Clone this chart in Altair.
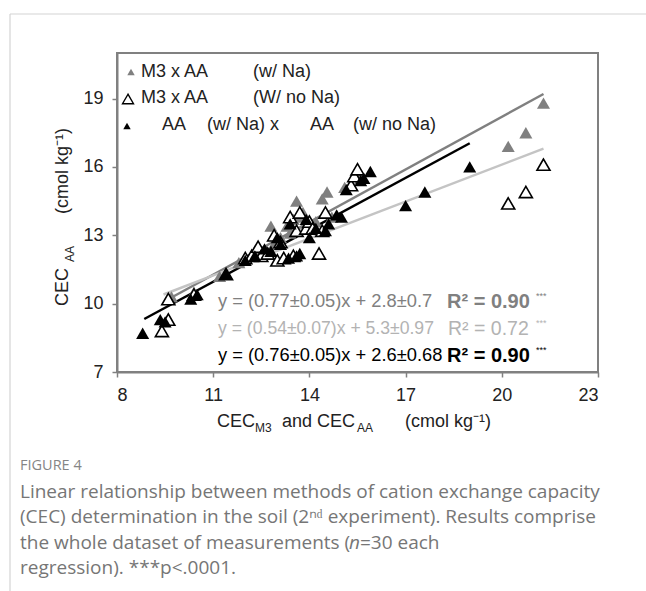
import altair as alt
import pandas as pd

# ---------------- data ----------------
# M3 x AA (w/ Na)  -- grey filled triangles
m3_na_x = [9.6, 9.7, 10.4, 11.2, 11.8, 12.0, 12.3, 12.6, 12.8, 12.9, 13.1, 13.3, 13.4, 13.5, 13.6,
           13.7, 13.8, 13.9, 14.0, 14.2, 14.4, 14.55, 14.7, 15.1, 15.3, 15.5, 15.6, 20.2, 20.75, 21.3]
m3_na_y = [10.2, 10.3, 10.5, 11.2, 11.8, 12.0, 12.3, 12.2, 13.4, 12.6, 12.9, 13.4, 13.1, 13.7, 14.5,
           13.8, 14.0, 13.5, 13.3, 13.6, 14.6, 14.9, 13.8, 15.1, 15.2, 15.7, 15.5, 16.9, 17.5, 18.8]
# M3 x AA (W/ no Na) -- open triangles
m3_nona_x = [9.4, 9.6, 9.6, 10.4, 11.4, 12.0, 12.2, 12.4, 12.5, 12.7, 12.9, 13.0, 13.1, 13.2, 13.4,
             13.5, 13.6, 13.7, 13.9, 14.0, 14.1, 14.3, 14.4, 14.5, 15.3, 15.4, 15.5, 20.2, 20.75, 21.3]
m3_nona_y = [8.8, 9.3, 10.2, 10.4, 11.3, 12.0, 12.1, 12.5, 12.1, 12.2, 13.0, 11.9, 12.7, 12.0, 13.8,
             12.1, 13.2, 14.0, 13.3, 13.6, 13.3, 12.2, 13.2, 14.0, 15.2, 15.6, 15.9, 14.4, 14.9, 16.1]
# AA (w/ Na) x AA (w/ no Na) -- black filled triangles
aa_x = [8.8, 9.35, 9.5, 10.3, 10.5, 11.4, 12.0, 12.3, 12.6, 12.8, 13.0, 13.1, 13.35, 13.4, 13.6,
        13.7, 13.9, 14.0, 14.2, 14.5, 14.6, 14.85, 15.0, 15.15, 15.6, 15.7, 15.9, 17.0, 17.6, 19.0]
aa_y = [8.7, 9.3, 9.2, 10.2, 10.4, 11.3, 11.9, 12.1, 12.4, 12.3, 12.9, 12.6, 12.0, 13.5, 12.1,
        12.2, 13.7, 12.9, 13.3, 13.2, 13.5, 13.9, 13.8, 15.0, 15.4, 15.5, 15.8, 14.3, 14.9, 16.0]

series_names = ["M3 x AA (w/ Na)", "M3 x AA (W/ no Na)", "AA (w/ Na) x AA (w/ no Na)"]

# regression fits (from the printed equations)
fit_slopes = [0.77, 0.54, 0.76]
fit_intercepts = [2.8, 5.3, 2.6]
fit_x_start = [9.6, 9.45, 8.85]
fit_x_end = [21.3, 21.3, 19.0]

x_ticks = [8, 11, 14, 17, 20, 23]
y_ticks = [7, 10, 13, 16, 19]

eq_texts = ["y = (0.77±0.05)x + 2.8±0.7", "y = (0.54±0.07)x + 5.3±0.97", "y = (0.76±0.05)x + 2.6±0.68"]
r2_texts = ["R² = 0.90", "R² = 0.72", "R² = 0.90"]

caption_head = "FIGURE 4"
caption_lines = [
    "Linear relationship between methods of cation exchange capacity",
    "(CEC) determination in the soil (2ⁿᵈ experiment). Results comprise",
    "the whole dataset of measurements (",
    "regression). ***p<.0001.",
]
caption_italic = "n"
caption_rest = "=30 each"

# ---------------- styling ----------------
GREY = "#808080"
LIGHT = "#c4c4c4"
LIGHT_TXT = "#b3b3b3"
FONT = "Liberation Sans"
CAP_FONT = "Open Sans"
CAP_COL = "#767676"
CAP_SIZE = 19
OX, OY = 117, 53          # plot origin in page pixels
W, H = 481, 319


def px(v):
    return v - OX


def py(v):
    return v - OY


xs = alt.Scale(domain=[8, 23], nice=False, zero=False)
ys = alt.Scale(domain=[7, 21], nice=False, zero=False)
xaxis = alt.Axis(values=x_ticks, title=None, grid=False, labelPadding=9)
yaxis = alt.Axis(values=y_ticks, title=None, grid=False, labelPadding=9)

pts = pd.concat([
    pd.DataFrame({"x": m3_na_x, "y": m3_na_y, "s": series_names[0]}),
    pd.DataFrame({"x": m3_nona_x, "y": m3_nona_y, "s": series_names[1]}),
    pd.DataFrame({"x": aa_x, "y": aa_y, "s": series_names[2]}),
])


def point_layer(name, fill, stroke, sw):
    return alt.Chart(pts).transform_filter(alt.datum.s == name).mark_point(
        shape="triangle-up", size=170, filled=True, fill=fill, stroke=stroke,
        strokeWidth=sw, opacity=1
    ).encode(x=alt.X("x:Q", scale=xs, axis=xaxis), y=alt.Y("y:Q", scale=ys, axis=yaxis))


line_rows = []
for i, name in enumerate(series_names):
    for xv in (fit_x_start[i], fit_x_end[i]):
        line_rows.append({"s": name, "x": xv, "y": fit_slopes[i] * xv + fit_intercepts[i]})
lines_df = pd.DataFrame(line_rows)


def line_layer(name, color):
    return alt.Chart(lines_df).transform_filter(alt.datum.s == name).mark_line(
        color=color, strokeWidth=2.5
    ).encode(x=alt.X("x:Q", scale=xs, axis=xaxis), y=alt.Y("y:Q", scale=ys, axis=yaxis))


def text(label, x, y, size=18, color="#222222", font=FONT, weight="normal", align="left",
         angle=0, style="normal", baseline="middle"):
    return alt.Chart(pd.DataFrame({"t": [label]})).mark_text(
        font=font, fontSize=size, color=color, fontWeight=weight, align=align,
        baseline=baseline, angle=angle, fontStyle=style
    ).encode(text="t:N", x=alt.value(px(x)), y=alt.value(py(y)))


def marker(x, y, size, fill, stroke, sw):
    return alt.Chart(pd.DataFrame({"t": [0]})).mark_point(
        shape="triangle-up", size=size, filled=True, fill=fill, stroke=stroke,
        strokeWidth=sw, opacity=1
    ).encode(x=alt.value(px(x)), y=alt.value(py(y)))


def rule(x1, y1, x2, y2, color):
    return alt.Chart(pd.DataFrame({"t": [0]})).mark_rule(color=color, strokeWidth=1.2).encode(
        x=alt.value(px(x1)), x2=alt.value(px(x2)), y=alt.value(py(y1)), y2=alt.value(py(y2))
    )


layers = [
    rule(10, 14, 646, 14, "#d4d4d4"),
    rule(10, 14, 10, 591, "#d4d4d4"),
    line_layer(series_names[0], GREY),
    line_layer(series_names[1], LIGHT),
    line_layer(series_names[2], "#000000"),
    point_layer(series_names[0], GREY, GREY, 0),
    point_layer(series_names[1], "#ffffff", "#000000", 1.6),
    point_layer(series_names[2], "#000000", "#000000", 0),
    # legend
    marker(131, 72, 55, GREY, GREY, 0),
    text("M3 x AA", 141, 72), text("(w/ Na)", 253, 72),
    marker(128, 99, 120, "#ffffff", "#000000", 1.4),
    text("M3 x AA", 141, 98), text("(W/ no Na)", 253, 98),
    marker(127, 126, 55, "#000000", "#000000", 0),
    text("AA", 162, 125), text("(w/ Na) x", 207, 125), text("AA", 310, 125), text("(w/ no Na)", 353, 125),
    # equations
    text(eq_texts[0], 218, 302, size=18.3, color=GREY),
    text(r2_texts[0], 447, 302, size=20, color=GREY, weight="bold"),
    text("***", 536, 296, size=9, color=GREY),
    text(eq_texts[1], 218, 329, size=17.6, color=LIGHT_TXT),
    text(r2_texts[1], 448, 329, size=19.5, color=LIGHT_TXT),
    text("***", 536, 323, size=9, color=LIGHT_TXT),
    text(eq_texts[2], 218, 356, size=18.3, color="#000000"),
    text(r2_texts[2], 447, 356, size=20, color="#000000", weight="bold"),
    text("***", 536, 350, size=9, color="#000000"),
    # y-axis title
    text("CEC", 63, 287, angle=270, align="center"),
    text("AA", 70, 254, size=12, angle=270, align="center"),
    text("(cmol kg⁻¹)", 63, 171, angle=270, align="center"),
    # x-axis title
    text("CEC", 217, 422), text("M3", 255, 428, size=12),
    text("and CEC", 282, 422), text("AA", 357, 428, size=12),
    text("(cmol kg⁻¹)", 405, 422),
    # caption
    text(caption_head, 20, 466, size=14.5, color="#858585", font=CAP_FONT),
    text(caption_lines[0], 20, 492, size=CAP_SIZE, color=CAP_COL, font=CAP_FONT),
    text(caption_lines[1], 20, 517, size=CAP_SIZE, color=CAP_COL, font=CAP_FONT),
    text(caption_lines[2], 20, 543, size=CAP_SIZE, color=CAP_COL, font=CAP_FONT),
    text(caption_italic, 349, 543, size=CAP_SIZE, color=CAP_COL, font=CAP_FONT, style="italic"),
    text(caption_rest, 360, 543, size=CAP_SIZE, color=CAP_COL, font=CAP_FONT),
    text(caption_lines[3], 20, 568, size=CAP_SIZE, color=CAP_COL, font=CAP_FONT),
]

chart = alt.layer(*layers).properties(
    width=W, height=H,
    padding={"left": OX, "top": OY, "right": 646 - OX - W, "bottom": 591 - OY - H},
    autosize=alt.AutoSizeParams(type="none"),
    background="white",
).configure_view(stroke=GREY, strokeWidth=2).configure_axis(
    domainColor=GREY, domainWidth=2, tickColor=GREY, tickWidth=1.5, tickSize=5,
    labelFont=FONT, labelFontSize=18, labelColor="#222222",
)

chart.save("out.html", embed_options={"renderer": "svg", "actions": False})
